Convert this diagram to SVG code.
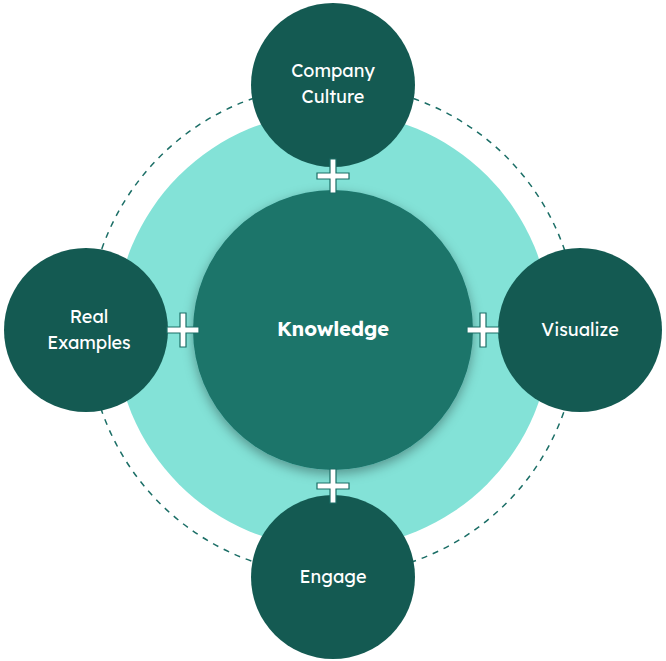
<svg xmlns="http://www.w3.org/2000/svg" width="666" height="661" viewBox="0 0 666 661">
<defs>
<style>
.sat{fill:#145a52}
.lbl{font-family:"Lexend","Inter","Liberation Sans",sans-serif;font-size:18px;fill:#fff;text-anchor:middle}
.plus{fill:#fff;stroke:#1b6e66;stroke-width:1.2}
</style>
<filter id="sh" x="-20%" y="-20%" width="140%" height="140%"><feDropShadow dx="0" dy="4" stdDeviation="6" flood-color="#000" flood-opacity="0.35"/></filter>
</defs>
<rect width="666" height="661" fill="#fff"/>
<circle cx="333" cy="330" r="245" fill="none" stroke="#1b6e66" stroke-width="1.5" stroke-dasharray="6,6"/>
<circle cx="333" cy="330" r="218" fill="#83e2d7"/>
<g id="connectors"></g>
<g id="top"><circle class="sat" cx="333" cy="85" r="82"/><text class="lbl" x="333" y="77">Company</text><text class="lbl" x="333" y="103">Culture</text></g>
<g id="left"><circle class="sat" cx="86" cy="330" r="82"/><text class="lbl" x="89" y="323">Real</text><text class="lbl" x="89" y="349">Examples</text></g>
<g id="right"><circle class="sat" cx="580" cy="330" r="82"/><text class="lbl" x="580" y="336">Visualize</text></g>
<g id="bottom"><circle class="sat" cx="333" cy="577" r="82"/><text class="lbl" x="333" y="583">Engage</text></g>
<g id="center"><circle cx="333" cy="330" r="140" fill="#1b746b" filter="url(#sh)"/><text class="lbl" x="333" y="336" font-weight="bold" style="font-size:20px">Knowledge</text></g>
<g id="plusses">
<path class="plus" d="M330 159h6v14h13v6h-13v14h-6v-14h-13v-6h13z"/>
<path class="plus" d="M330 469h6v14h13v6h-13v14h-6v-14h-13v-6h13z"/>
<path class="plus" d="M180 313h6v14h13v6h-13v14h-6v-14h-13v-6h13z"/>
<path class="plus" d="M480 313h6v14h13v6h-13v14h-6v-14h-13v-6h13z"/>
</g>
</svg>
